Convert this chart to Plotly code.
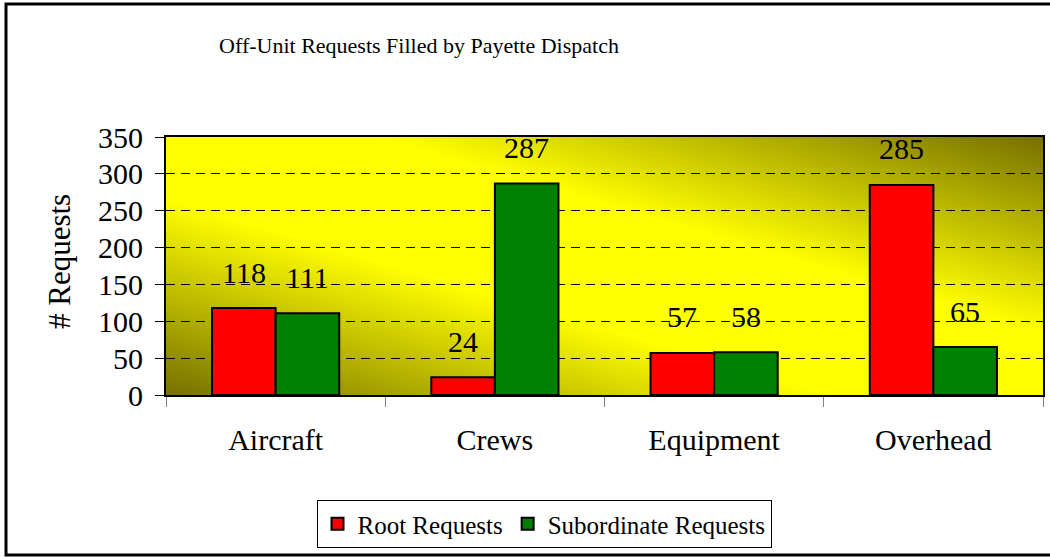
import base64

import plotly.graph_objects as go

categories = ["Aircraft", "Crews", "Equipment", "Overhead"]
root_requests = [118, 24, 57, 285]
subordinate_requests = [111, 287, 58, 65]
y_ticks = [0, 50, 100, 150, 200, 250, 300, 350]

W, H = 1050, 557
L, R, T, B = 166, 1043, 137, 395  # plot area in pixels
FONT = "Liberation Serif"


def px_x(p):
    return (p - L) / (R - L)


def px_y(p):
    return (B - p) / (B - T)


# diagonal "from centre" gradient: dark olive corners, wide yellow band
svg = (
    '<svg xmlns="http://www.w3.org/2000/svg" width="877" height="258" viewBox="0 0 877 258" '
    'preserveAspectRatio="none"><defs><linearGradient id="g" x1="0" y1="1" x2="1" y2="0">'
    '<stop offset="0" stop-color="#767000"/><stop offset="0.38" stop-color="#ffff00"/>'
    '<stop offset="0.62" stop-color="#ffff00"/><stop offset="1" stop-color="#767000"/>'
    '</linearGradient></defs><rect width="877" height="258" fill="url(#g)"/></svg>'
)
bg_uri = "data:image/svg+xml;base64," + base64.b64encode(svg.encode()).decode()

fig = go.Figure()
fig.add_trace(
    go.Bar(
        x=categories,
        y=root_requests,
        name="Root Requests",
        marker=dict(color="#ff0000", line=dict(color="black", width=2)),
    )
)
fig.add_trace(
    go.Bar(
        x=categories,
        y=subordinate_requests,
        name="Subordinate Requests",
        marker=dict(color="#008000", line=dict(color="black", width=2)),
    )
)

# value labels sit well above the bars
half = (R - L) / len(categories) * (1 - 0.42) / 4
for cat, v in zip(categories, root_requests):
    fig.add_annotation(x=cat, y=v, text=str(v), showarrow=False, xshift=-half, yshift=36,
                       font=dict(family=FONT, size=30, color="black"))
for cat, v in zip(categories, subordinate_requests):
    fig.add_annotation(x=cat, y=v, text=str(v), showarrow=False, xshift=half, yshift=36,
                       font=dict(family=FONT, size=30, color="black"))

fig.add_annotation(
    x=px_x(59), y=px_y(262), xref="paper", yref="paper", text="# Requests", textangle=-90,
    xanchor="center", yanchor="middle",
    showarrow=False, font=dict(family=FONT, size=31, color="black"),
)

fig.add_layout_image(
    source=bg_uri, xref="paper", yref="paper", x=0, y=1, sizex=1, sizey=1,
    sizing="stretch", xanchor="left", yanchor="top", layer="below",
)

# outer chart frame
fig.add_shape(type="rect", xref="paper", yref="paper",
              x0=px_x(6), x1=px_x(1060), y0=px_y(555), y1=px_y(4),
              line=dict(color="black", width=3))

fig.update_layout(
    width=W,
    height=H,
    margin=dict(l=L, r=W - R, t=T, b=H - B, autoexpand=False),
    paper_bgcolor="white",
    plot_bgcolor="rgba(0,0,0,0)",
    barmode="group",
    bargap=0.42,
    bargroupgap=0,
    font=dict(family=FONT, size=30, color="black"),
    title=dict(
        text="Off-Unit Requests Filled by Payette Dispatch",
        x=419 / W, xanchor="center", y=1 - 45 / H, yanchor="middle",
        font=dict(family=FONT, size=22, color="black"),
    ),
    showlegend=True,
    legend=dict(
        orientation="h",
        x=px_x(544), xanchor="center",
        y=px_y(548), yanchor="bottom",
        bordercolor="black", borderwidth=1, bgcolor="white",
        font=dict(family=FONT, size=25, color="black"),
        traceorder="normal",
    ),
)
fig.update_xaxes(
    showline=True, linecolor="black", linewidth=2, mirror=True,
    ticks="outside", tickson="boundaries", ticklen=10, tickcolor="#808080",
    ticklabelstandoff=17, showgrid=False, automargin=False,
)
fig.update_yaxes(
    range=[0, 350], tickvals=y_ticks, showline=True, linecolor="black", linewidth=2, mirror=True,
    ticks="outside", ticklen=9, tickcolor="black", ticklabelstandoff=6,
    showgrid=True, gridcolor="black", gridwidth=1, griddash="9px,6px", zeroline=False,
    automargin=False,
)

fig.write_html(
    "out.html",
    config={"displayModeBar": False},
    post_script="document.body.style.margin='0px';",
)
